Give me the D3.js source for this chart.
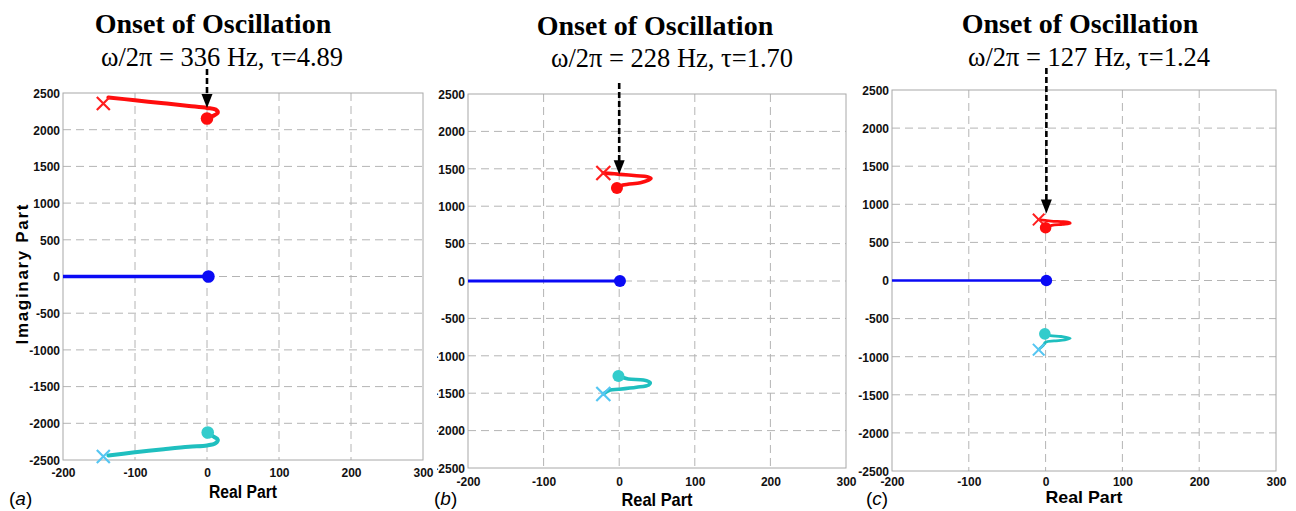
<!DOCTYPE html>
<html>
<head>
<meta charset="utf-8">
<script src="https://cdn.jsdelivr.net/npm/d3@7"></script>
<style>
  body { margin: 0; background: #fff; }
  svg { display: block; }
</style>
</head>
<body>
<svg id="chart" width="1296" height="511"></svg>
<script>
// ---- data -------------------------------------------------------------
const xTicks = [-200, -100, 0, 100, 200, 300];
const yTicks = [-2500, -2000, -1500, -1000, -500, 0, 500, 1000, 1500, 2000, 2500];
const panelLetters = ["a", "b", "c"];
const onsetFreqHz = ["336", "228", "127"];
const onsetTau = ["4.89", "1.70", "1.24"];

// root-locus branches, [real, imaginary]
const redLocusA  = [[-137, 2440], [-100, 2401], [-60, 2360], [-25, 2324], [0, 2297], [12, 2275], [15, 2232], [8, 2186], [0, 2152]];
const blueLocusA = [[-200, 0], [2, 0]];
const cyanLocusA = [[-137, -2439], [-103, -2398], [-60, -2352], [-25, -2318], [0, -2302], [12, -2270], [15, -2222], [8, -2176], [1, -2125]];
const openLoopA   = [[-144, 2357], [-144, -2452]];
const closedLoopA = [[0, 2152], [2, 0], [1, -2125]];
const onsetA = [0, 2297];

const redLocusB  = [[-21, 1444], [-10, 1436], [1, 1426], [23, 1408], [37, 1394], [42, 1372], [38, 1345], [28, 1314], [5, 1283], [-3, 1243]];
const blueLocusB = [[-200, 0], [1, 0]];
const cyanLocusB = [[-21, -1510], [-12, -1457], [-1, -1448], [23, -1421], [39, -1390], [41, -1359], [32, -1324], [12, -1310], [-1, -1270]];
const openLoopB   = [[-21, 1444], [-21, -1511]];
const closedLoopB = [[-3, 1243], [1, 0], [-1, -1270]];
const onsetB = [0, 1426];

const redLocusC  = [[-9, 800], [0, 788], [7, 780], [20, 772], [29, 766], [32, 752], [22, 738], [8, 724], [0, 692]];
const blueLocusC = [[-200, 0], [1, 0]];
const cyanLocusC = [[-9, -905], [-3, -850], [0, -810], [11, -793], [25, -780], [32, -760], [20, -735], [6, -722], [-1, -700]];
const openLoopC   = [[-9, 800], [-9, -908]];
const closedLoopC = [[0, 692], [1, 0], [-1, -700]];
const onsetC = [1, 880];

// ---- layout -----------------------------------------------------------
const panels = [
  { red: redLocusA, blue: blueLocusA, cyan: cyanLocusA, open: openLoopA, closed: closedLoopA, onset: onsetA,
    left: 63, right: 423, top: 93, bottom: 460, titleX: 213, subX: 222, titleY: 33, subY: 66, arrowTop: 69,
    lw: 4, blueLw: 3.5, dotR: 6.3, xSize: 6.5, xLw: 2.2, clipLeft: 0, xPad: 8,
    labelX: 9, realSize: 18, realLen: 68, realY: 498, yLabel: true },
  { red: redLocusB, blue: blueLocusB, cyan: cyanLocusB, open: openLoopB, closed: closedLoopB, onset: onsetB,
    left: 468, right: 846, top: 94, bottom: 468, titleX: 655, subX: 672, titleY: 35, subY: 67, arrowTop: 83,
    lw: 3.6, blueLw: 3, dotR: 6, xSize: 7, xLw: 2.2, clipLeft: 437, xPad: 9,
    labelX: 434, realSize: 19, realLen: 71, realY: 506, yLabel: false },
  { red: redLocusC, blue: blueLocusC, cyan: cyanLocusC, open: openLoopC, closed: closedLoopC, onset: onsetC,
    left: 892, right: 1276, top: 90, bottom: 471, titleX: 1080, subX: 1089, titleY: 33, subY: 66, arrowTop: 68,
    lw: 2.8, blueLw: 2.6, dotR: 5.8, xSize: 5.8, xLw: 2, clipLeft: 0, xPad: 6,
    labelX: 866, realSize: 17, realLen: 77, realY: 503, yLabel: false }
];

const colors = {
  red: "#ff0d0d", redX: "#ff1f1f",
  blue: "#0a0af5",
  cyan: "#1fbfbf", cyanDot: "#33cccc", cyanX: "#55c6f2",
  grid: "#b4b4b4", frame: "#a8a8a8"
};

const svg = d3.select("#chart");
const defs = svg.append("defs");
const tickText = d => String(d);

panels.forEach((p, i) => {
  const x = d3.scaleLinear().domain([-200, 300]).range([p.left, p.right]);
  const y = d3.scaleLinear().domain([-2500, 2500]).range([p.bottom, p.top]);
  const g = svg.append("g");

  if (p.clipLeft) {
    const id = "clip-" + panelLetters[i];
    defs.append("clipPath").attr("id", id)
      .append("rect").attr("x", p.clipLeft).attr("y", 0).attr("width", 1296).attr("height", 511);
    g.attr("clip-path", `url(#${id})`);
  }

  // dashed grid
  g.append("g").selectAll("line").data(xTicks.slice(1, -1)).join("line")
    .attr("x1", d => x(d)).attr("x2", d => x(d))
    .attr("y1", p.top).attr("y2", p.bottom)
    .attr("stroke", colors.grid).attr("stroke-width", 1).attr("stroke-dasharray", "8,5");
  g.append("g").selectAll("line").data(yTicks.slice(1, -1)).join("line")
    .attr("x1", p.left).attr("x2", p.right)
    .attr("y1", d => y(d)).attr("y2", d => y(d))
    .attr("stroke", colors.grid).attr("stroke-width", 1).attr("stroke-dasharray", "8,5");

  // axes
  const xAxis = g.append("g").attr("transform", `translate(0,${p.bottom})`)
    .call(d3.axisBottom(x).tickValues(xTicks).tickSize(0).tickPadding(p.xPad).tickFormat(tickText));
  const yAxis = g.append("g").attr("transform", `translate(${p.left},0)`)
    .call(d3.axisLeft(y).tickValues(yTicks).tickSize(0).tickPadding(3).tickFormat(tickText));
  [xAxis, yAxis].forEach(a => {
    a.select(".domain").remove();
    a.selectAll("text").attr("font-family", "'Liberation Sans', Arial, sans-serif")
      .attr("font-weight", "bold").attr("font-size", 12).attr("fill", "#111");
  });
  yAxis.selectAll("text").attr("dy", "0.36em");
  xAxis.selectAll("text").attr("dy", "0.71em");

  // frame
  g.append("rect").attr("x", p.left).attr("y", p.top)
    .attr("width", p.right - p.left).attr("height", p.bottom - p.top)
    .attr("fill", "none").attr("stroke", colors.frame).attr("stroke-width", 1);

  // loci
  const line = d3.line().x(d => x(d[0])).y(d => y(d[1])).curve(d3.curveCatmullRom.alpha(0.5));
  g.append("path").datum(p.blue).attr("d", line).attr("fill", "none")
    .attr("stroke", colors.blue).attr("stroke-width", p.blueLw);
  g.append("path").datum(p.red).attr("d", line).attr("fill", "none")
    .attr("stroke", colors.red).attr("stroke-width", p.lw).attr("stroke-linejoin", "round").attr("stroke-linecap", "round");
  g.append("path").datum(p.cyan).attr("d", line).attr("fill", "none")
    .attr("stroke", colors.cyan).attr("stroke-width", p.lw).attr("stroke-linejoin", "round").attr("stroke-linecap", "round");

  // open-loop poles (crosses)
  const xColors = [colors.redX, colors.cyanX];
  p.open.forEach((d, k) => {
    const cx = x(d[0]), cy = y(d[1]), s = p.xSize;
    g.append("path")
      .attr("d", `M${cx - s},${cy - s}L${cx + s},${cy + s}M${cx - s},${cy + s}L${cx + s},${cy - s}`)
      .attr("stroke", xColors[k]).attr("stroke-width", p.xLw).attr("fill", "none");
  });

  // closed-loop poles (dots)
  const dotColors = [colors.red, colors.blue, colors.cyanDot];
  g.append("g").selectAll("circle").data(p.closed).join("circle")
    .attr("cx", d => x(d[0])).attr("cy", d => y(d[1])).attr("r", p.dotR)
    .attr("fill", (d, k) => dotColors[k]);

  // onset arrow
  const ax = x(p.onset[0]), tip = y(p.onset[1]);
  g.append("line").attr("x1", ax).attr("x2", ax).attr("y1", p.arrowTop).attr("y2", tip - 12)
    .attr("stroke", "#000").attr("stroke-width", 2.6).attr("stroke-dasharray", "6,3");
  g.append("path").attr("d", `M${ax - 5.5},${tip - 14}L${ax + 5.5},${tip - 14}L${ax},${tip}Z`).attr("fill", "#000");

  // titles
  svg.append("text").attr("x", p.titleX).attr("y", p.titleY).attr("text-anchor", "middle")
    .attr("font-family", "'Liberation Serif', 'Times New Roman', serif").attr("font-weight", "bold")
    .attr("font-size", 28).attr("fill", "#000").text("Onset of Oscillation");
  svg.append("text").attr("x", p.subX).attr("y", p.subY).attr("text-anchor", "middle")
    .attr("font-family", "'Liberation Serif', 'Times New Roman', serif")
    .attr("font-size", 26.5).attr("fill", "#000")
    .text(`ω/2π = ${onsetFreqHz[i]} Hz, τ=${onsetTau[i]}`);

  // axis titles
  svg.append("text").attr("x", (p.left + p.right) / 2).attr("y", p.realY).attr("text-anchor", "middle")
    .attr("font-family", "'Liberation Sans', Arial, sans-serif").attr("font-weight", "bold")
    .attr("font-size", p.realSize).attr("textLength", p.realLen).attr("lengthAdjust", "spacingAndGlyphs")
    .attr("fill", "#000").text("Real Part");
  if (p.yLabel) {
    svg.append("text").attr("transform", `translate(28,${(p.top + p.bottom) / 2 - 2}) rotate(-90)`)
      .attr("text-anchor", "middle")
      .attr("font-family", "'Liberation Sans', Arial, sans-serif").attr("font-weight", "bold")
      .attr("font-size", 17).attr("textLength", 140).attr("lengthAdjust", "spacing")
      .attr("fill", "#000").text("Imaginary Part");
  }

  // panel letter
  const lab = svg.append("text").attr("x", p.labelX).attr("y", 505)
    .attr("font-family", "'Liberation Sans', Arial, sans-serif").attr("font-size", 19).attr("fill", "#000");
  lab.append("tspan").text("(");
  lab.append("tspan").attr("font-style", "italic").text(panelLetters[i]);
  lab.append("tspan").text(")");
});
</script>
</body>
</html>
